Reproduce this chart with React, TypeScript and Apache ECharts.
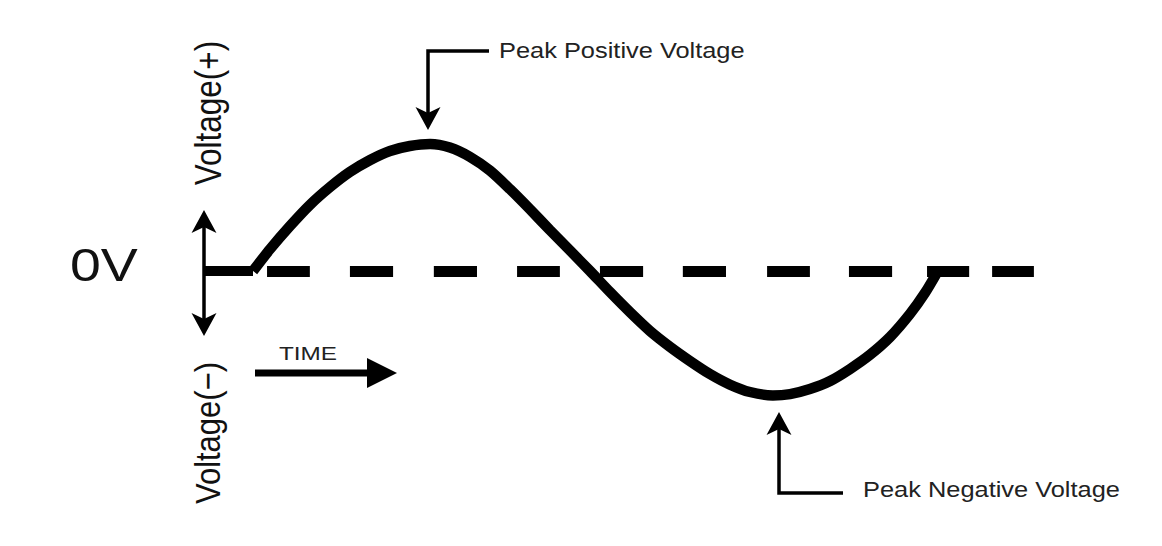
import React, { useEffect, useRef } from "react";
import * as echarts from "echarts";

// Time in ms (one 20 ms cycle), voltage normalised to peak = 1
const waveTime = [0, 0.5, 1.08, 1.66, 2.25, 2.83, 3.42, 4.0, 4.58, 5.17, 5.75, 6.34, 6.92, 7.5, 8.09, 8.67, 9.26, 9.84, 10.42, 11.01, 11.59, 12.18, 12.76, 13.34, 13.93, 14.51, 15.18, 15.68, 16.26, 16.85, 17.43, 18.01, 18.6, 19.18, 19.62, 20.0];
const waveVolt = [0, 0.173, 0.354, 0.52, 0.661, 0.78, 0.874, 0.945, 0.984, 1.0, 0.972, 0.898, 0.79, 0.645, 0.485, 0.322, 0.16, 0, -0.165, -0.325, -0.472, -0.598, -0.709, -0.811, -0.895, -0.953, -0.98, -0.969, -0.929, -0.866, -0.772, -0.661, -0.52, -0.339, -0.173, 0];

// flat 0 V lead-in before the cycle starts
const leadInTime = [-1.43, 0];

// dashed 0 V reference line: dash start/end times
const dashStart = [0.41, 2.83, 5.28, 7.71, 10.13, 12.55, 15.01, 17.4, 19.68, 21.58];
const dashEnd = [1.66, 4.09, 6.54, 8.96, 11.39, 13.81, 16.26, 18.66, 20.91, 22.8];

const labels = {
  zero: "0V",
  plus: "Voltage(+)",
  minus: "Voltage(−)",
  time: "TIME",
  peakPos: "Peak Positive Voltage",
  peakNeg: "Peak Negative Voltage",
};

const FONT = "'Liberation Sans', Arial, Helvetica, sans-serif";
const INK = "#111";

function notchedHead(tipX: number, tipY: number, dir: 1 | -1) {
  // dir = -1 : pointing up, 1 : pointing down
  const back = tipY - dir * 23;
  const notch = tipY - dir * 17;
  return [
    [tipX, tipY],
    [tipX - 12.5, back],
    [tipX, notch],
    [tipX + 12.5, back],
  ];
}

export default function App() {
  const ref = useRef<HTMLDivElement>(null);

  useEffect(() => {
    if (!ref.current) return;
    const chart = echarts.init(ref.current, undefined, { renderer: "svg" });

    const waveData = waveTime.map((t, i) => [t, waveVolt[i]]);
    const leadData = leadInTime.map((t) => [t, 0]);
    const dashData = dashStart.map((s, i) => ({ coords: [[s, 0], [dashEnd[i], 0]] }));

    chart.setOption({
      animation: false,
      backgroundColor: "#ffffff",
      // 34.25 px per ms, 127 px per normalised volt; 0 ms at x = 253, 0 V at y = 271
      grid: { left: 201.625, right: 121.25, top: 144, bottom: 148, containLabel: false },
      xAxis: { type: "value", min: -1.5, max: 23, show: false },
      yAxis: { type: "value", min: -1, max: 1, show: false },
      series: [
        {
          type: "lines",
          coordinateSystem: "cartesian2d",
          clip: false,
          silent: true,
          lineStyle: { color: "#000", width: 11, opacity: 1, cap: "butt" },
          data: dashData,
        },
        {
          type: "line",
          data: leadData,
          clip: false,
          symbol: "none",
          lineStyle: { color: "#000", width: 10, cap: "butt" },
        },
        {
          type: "line",
          data: waveData,
          clip: false,
          smooth: 0.25,
          symbol: "none",
          lineStyle: { color: "#000", width: 10.5, cap: "butt" },
        },
      ],
      graphic: [
        // vertical double arrow at 0 V
        { type: "line", shape: { x1: 204, y1: 226, x2: 204, y2: 320 }, style: { stroke: "#000", lineWidth: 3.5 } },
        { type: "polygon", shape: { points: notchedHead(204, 210, -1) }, style: { fill: "#000" } },
        { type: "polygon", shape: { points: notchedHead(204, 336, 1) }, style: { fill: "#000" } },
        // TIME arrow
        { type: "line", shape: { x1: 255, y1: 373, x2: 370, y2: 373 }, style: { stroke: "#000", lineWidth: 7 } },
        { type: "polygon", shape: { points: [[367, 358], [397, 373], [367, 388]] }, style: { fill: "#000" } },
        // peak positive callout
        { type: "polyline", shape: { points: [[489, 51], [428, 51], [428, 114]] }, style: { stroke: "#000", lineWidth: 3.5, fill: null } },
        { type: "polygon", shape: { points: notchedHead(428, 130, 1) }, style: { fill: "#000" } },
        // peak negative callout
        { type: "polyline", shape: { points: [[843, 493], [779, 493], [779, 428]] }, style: { stroke: "#000", lineWidth: 3.5, fill: null } },
        { type: "polygon", shape: { points: notchedHead(779, 412, -1) }, style: { fill: "#000" } },
        // texts
        {
          type: "text", x: 70, y: 288, scaleX: 1.18,
          style: { text: labels.zero, fill: INK, font: `47px ${FONT}`, textAlign: "left", textVerticalAlign: "bottom" },
        },
        {
          type: "text", x: 208, y: 113, rotation: Math.PI / 2, scaleY: 1.15,
          style: { text: labels.plus, fill: INK, font: `31.5px ${FONT}`, textAlign: "center", textVerticalAlign: "middle" },
        },
        {
          type: "text", x: 208, y: 433, rotation: Math.PI / 2, scaleY: 1.15,
          style: { text: labels.minus, fill: INK, font: `31px ${FONT}`, textAlign: "center", textVerticalAlign: "middle" },
        },
        {
          type: "text", x: 279, y: 363, scaleX: 1.28,
          style: { text: labels.time, fill: "#222", font: `19px ${FONT}`, textAlign: "left", textVerticalAlign: "bottom" },
        },
        {
          type: "text", x: 499, y: 61, scaleX: 1.155,
          style: { text: labels.peakPos, fill: "#222", font: `22px ${FONT}`, textAlign: "left", textVerticalAlign: "bottom" },
        },
        {
          type: "text", x: 863, y: 500, scaleX: 1.155,
          style: { text: labels.peakNeg, fill: "#222", font: `22px ${FONT}`, textAlign: "left", textVerticalAlign: "bottom" },
        },
      ],
    });

    return () => chart.dispose();
  }, []);

  return (
    <div
      ref={ref}
      style={{ position: "fixed", left: 0, top: 0, width: 1162, height: 546, background: "#fff" }}
    />
  );
}
